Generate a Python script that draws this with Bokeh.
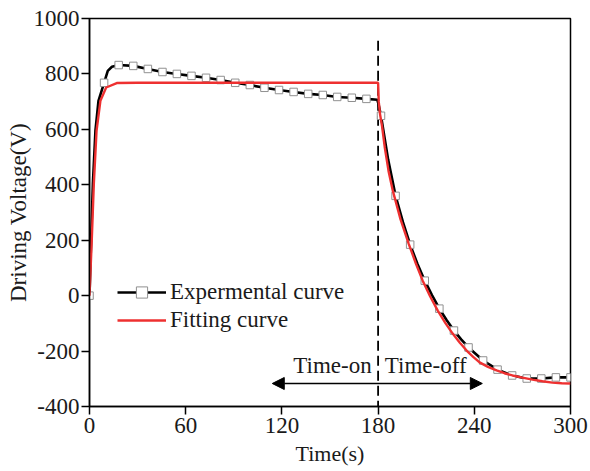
from bokeh.plotting import figure
from bokeh.models import Range1d, FixedTicker, Arrow, NormalHead, Legend, LegendItem, PrintfTickFormatter
from bokeh.core.properties import value
from bokeh.embed import file_html
from bokeh.resources import INLINE

# ---- data ----
x_ticks = [0, 60, 120, 180, 240, 300]
y_ticks = [-400, -200, 0, 200, 400, 600, 800, 1000]

# experimental curve, sample points shown as markers
t_markers = [0, 9.1, 18.2, 27.3, 36.4, 45.5, 54.5, 63.6, 72.7, 81.8, 90.9, 100, 109.1,
             118.2, 127.3, 136.4, 145.5, 154.5, 163.6, 172.7, 181.8, 190.9, 200, 209.1,
             218.2, 227.3, 236.4, 245.5, 254.5, 263.6, 272.7, 281.8, 290.9, 300]
v_markers = [0, 768, 832, 829, 818, 807, 800, 793, 786, 778, 768, 760, 750,
             742, 735, 728, 724, 717, 714, 710, 649, 360, 184, 54,
             -47, -126, -187, -234, -267, -288, -299, -299, -295, -295]

# experimental curve, extra points read between markers
t_exp_extra = [1.0, 2.1, 3.7, 5.6, 11.4, 14.0, 179.5, 180.3, 186.3, 195.5, 204.5, 213.6, 222.7, 231.8]
v_exp_extra = [198, 403, 595, 703, 811, 826, 707, 690, 490, 265, 115, 2, -88, -158]

# fitting curve
t_fit = [0, 1.4, 2.7, 4.4, 6.8, 10.4, 17, 30, 180, 180.4, 181.2, 182.5, 184.2, 186.5, 189.2,
         194, 199.1, 203.5, 207.8, 212.5, 217.2, 222, 226.5, 231, 235.2, 239.3, 243.3, 248.5,
         253.9, 258.8, 263.8, 270, 276.3, 282.5, 288.7, 294.5, 300]
v_fit = [0, 198, 403, 595, 703, 751, 767, 768, 768, 700, 655, 610, 533, 450, 378,
         275, 187, 117, 54, -3, -54, -99, -137, -170, -198, -221, -241, -257,
         -270, -280, -288, -296, -303, -309, -314, -316, -317]

switch_t = 180
switch_top = 920
arrow_y = -317
arrow_left = 114
arrow_right = 245

labels = ["Expermental curve", "Fitting curve"]
x_title = "Time(s)"
y_title = "Driving Voltage(V)"

FONT = "Liberation Serif"
TXT = "#1a1a1a"

exp_pts = sorted(zip(t_markers + t_exp_extra, v_markers + v_exp_extra))
t_exp_line = [a for a, b in exp_pts]
v_exp_line = [b for a, b in exp_pts]

p = figure(width=588, height=471, output_backend="svg", toolbar_location=None,
           x_range=Range1d(0, 300), y_range=Range1d(-400, 1000),
           min_border_left=89, min_border_right=18, min_border_top=18, min_border_bottom=65)
p.xgrid.visible = False
p.ygrid.visible = False
p.outline_line_color = "black"
p.outline_line_width = 1.5
p.background_fill_color = "white"
p.border_fill_color = "white"

for ax in (p.xaxis[0], p.yaxis[0]):
    ax.axis_line_color = "black"
    ax.axis_line_width = 1.5
    ax.major_tick_line_color = "black"
    ax.major_tick_line_width = 1.5
    ax.major_tick_in = 0
    ax.major_tick_out = 8
    ax.minor_tick_line_color = None
    ax.major_label_text_font = FONT
    ax.major_label_text_font_size = "23px"
    ax.major_label_text_color = TXT
    ax.axis_label_text_font = FONT
    ax.axis_label_text_font_style = "normal"
    ax.axis_label_text_color = TXT
    ax.formatter = PrintfTickFormatter(format="%d")

p.xaxis.ticker = FixedTicker(ticks=x_ticks)
p.yaxis.ticker = FixedTicker(ticks=y_ticks)
p.xaxis.axis_label = x_title
p.yaxis.axis_label = y_title
p.xaxis.axis_label_text_font_size = "22px"
p.yaxis.axis_label_text_font_size = "23px"
p.xaxis.major_label_standoff = 3
p.yaxis.major_label_standoff = 2
p.xaxis.axis_label_standoff = 5
p.yaxis.axis_label_standoff = 0

# dashed switch line
p.segment(x0=[switch_t], y0=[switch_top], x1=[switch_t], y1=[-400],
          line_color="black", line_width=1.8, line_dash="10 5")

# curves
r_exp = p.line(t_exp_line, v_exp_line, line_color="black", line_width=2.6)
r_mk = p.scatter(t_markers, v_markers, marker="square", size=7.5,
                 fill_color="white", line_color="#909090", line_width=1)
r_fit = p.line(t_fit, v_fit, line_color="#ee3030", line_width=2.4)

# arrow with text
p.add_layout(Arrow(x_start=arrow_left, x_end=arrow_right, y_start=arrow_y, y_end=arrow_y,
                   line_color="black", line_width=1.5,
                   start=NormalHead(size=12, fill_color="black", line_color="black"),
                   end=NormalHead(size=12, fill_color="black", line_color="black")))
p.text(x=[176], y=[-252], text=["Time-on"], text_align="right", text_baseline="alphabetic",
       text_font=value(FONT), text_font_size="23px", text_color=TXT)
p.text(x=[184.2], y=[-252], text=["Time-off"], text_align="left", text_baseline="alphabetic",
       text_font=value(FONT), text_font_size="23px", text_color=TXT)

legend = Legend(items=[LegendItem(label=labels[0], renderers=[r_exp, r_mk]),
                       LegendItem(label=labels[1], renderers=[r_fit])],
                location=(28, 72), border_line_color=None, background_fill_alpha=0,
                label_text_font=FONT, label_text_font_size="23px", label_text_color=TXT,
                glyph_width=49, glyph_height=28, label_height=28, spacing=0,
                label_standoff=4, padding=0, margin=0)
p.add_layout(legend)

open("out.html", "w").write(file_html(p, INLINE))
